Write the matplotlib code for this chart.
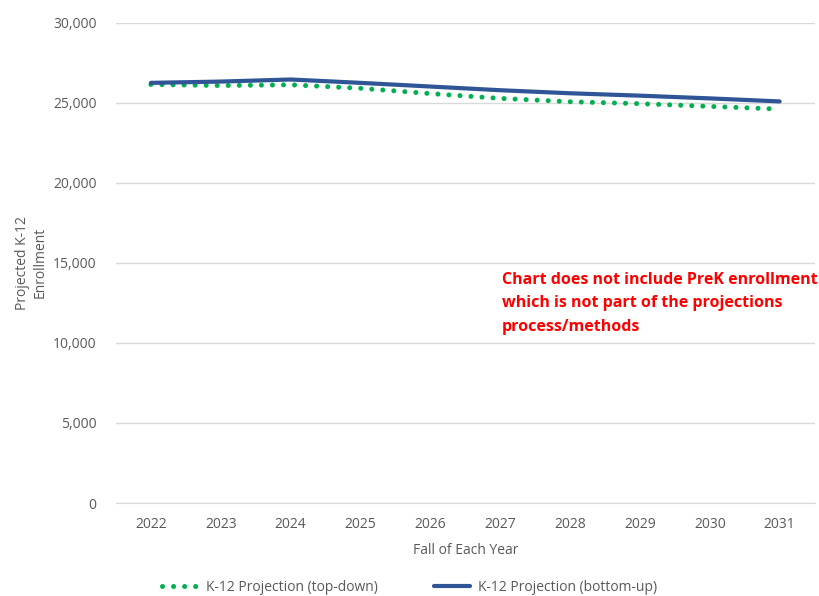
import matplotlib.pyplot as plt
from matplotlib.ticker import FuncFormatter

years = ["2022", "2023", "2024", "2025", "2026", "2027", "2028", "2029", "2030", "2031"]
top_down = [26140, 26070, 26120, 25900, 25570, 25270, 25060, 24940, 24770, 24600]
bottom_up = [26240, 26320, 26450, 26240, 26010, 25780, 25590, 25440, 25270, 25080]

plt.rcParams['font.family'] = ['Open Sans', 'DejaVu Sans']
gray = "#595959"

fig = plt.figure(figsize=(8.19, 5.96), dpi=100)
ax = fig.add_axes([0.1416, 0.156, 0.853, 0.806])

x = range(len(years))
ax.plot(x, top_down, color="#00B050", linewidth=3.6, linestyle=(0, (0.01, 2.2)),
        dash_capstyle="round", label="K-12 Projection (top-down)", zorder=3)
ax.plot(x, bottom_up, color="#2F5597", linewidth=3.0, solid_capstyle="round",
        label="K-12 Projection (bottom-up)", zorder=4)

ax.set_xlim(-0.5, len(years) - 0.5)
ax.set_ylim(0, 30000)
ax.set_yticks(range(0, 30001, 5000))
ax.yaxis.set_major_formatter(FuncFormatter(lambda v, p: f"{int(v):,}"))
ax.set_xticks(list(x))
ax.set_xticklabels(years)
ax.grid(axis="y", color="#D9D9D9", linewidth=1)
ax.set_axisbelow(True)
for s in ["top", "right", "left"]:
    ax.spines[s].set_visible(False)
ax.spines["bottom"].set_color("#D9D9D9")
ax.tick_params(axis="both", length=0, colors=gray, labelsize=10)
ax.tick_params(axis="y", pad=14)
ax.tick_params(axis="x", pad=10)

ax.set_xlabel("Fall of Each Year", color=gray, fontsize=10, labelpad=8)
ax.set_ylabel("Projected K-12\nEnrollment", color=gray, fontsize=10, labelpad=4)

ax.text(0.552, 0.481, "Chart does not include PreK enrollment\nwhich is not part of the projections\nprocess/methods",
        transform=ax.transAxes, color="#FF0000", fontsize=11.5, fontweight="bold",
        va="top", ha="left", linespacing=1.62)

leg = fig.legend(loc="lower center", bbox_to_anchor=(0.5, -0.019), ncol=2, frameon=False,
                 fontsize=10, handlelength=2.6, handletextpad=0.6, columnspacing=4)
for t in leg.get_texts():
    t.set_color(gray)

fig.savefig("out.png", dpi=100)
